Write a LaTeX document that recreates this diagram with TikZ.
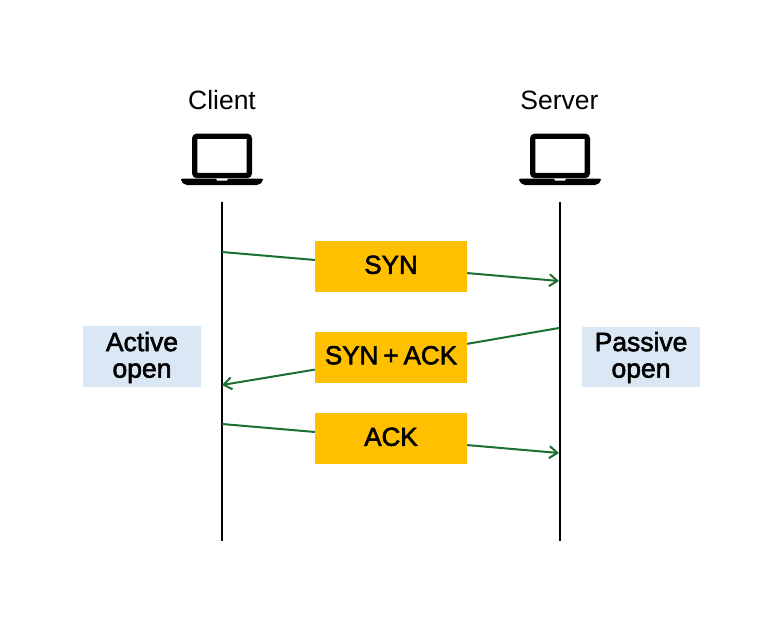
\documentclass[tikz,border=0pt]{standalone}
\usepackage{fontspec}
\setmainfont{Liberation Sans}[BoldFont={Liberation Sans},BoldFeatures={FakeBold=2.2},WordSpace=0.7]
\definecolor{msg}{HTML}{1A7030}
\definecolor{boxy}{HTML}{FFC000}
\definecolor{noteb}{HTML}{DAE8F5}
\tikzset{
  msgbox/.style={fill=boxy,minimum width=152pt,minimum height=51pt,inner sep=0pt,text height=18pt,text depth=3.5pt,font=\fontsize{26}{26}\selectfont\bfseries},
  notebox/.style={fill=noteb,minimum width=118pt,inner sep=0pt,align=center,text depth=5.6pt,font=\fontsize{26.5}{26.5}\selectfont\bfseries},
  title/.style={inner sep=0pt,font=\fontsize{26.5}{26.5}\selectfont},
  lifeline/.style={line width=2pt,black},
  msgline/.style={line width=2pt,msg},
  msgarrow/.style={msgline,-{Straight Barb[length=8pt,width=12pt,line width=2pt]}},
}
\usetikzlibrary{arrows.meta}
\begin{document}
\begin{tikzpicture}[x=1pt,y=-1pt]
\useasboundingbox (0,0) rectangle (773,632);
\fill[white] (0,0) rectangle (773,632);
\node[title] (client) at (222,100) {Client};
\node[title] (server) at (559.5,100) {Server};
% laptops
\foreach \x in {0,338}{
  \begin{scope}[xshift=\x pt]
    \draw[line width=5.4pt,rounded corners=2.5pt] (194.7,136.2) rectangle (249.3,175.5);
    \fill[rounded corners=2pt] (181,178.5) -- (263,178.5) -- (263,181) -- (259,185) -- (185,185) -- (181,181) -- cycle;
    \fill[white] (216,178.5) -- (228,178.5) -- (227,180.5) -- (217,180.5) -- cycle;
  \end{scope}
}
\coordinate (ctop) at (222,202);
\coordinate (cbot) at (222,541);
\coordinate (stop) at (560,202);
\coordinate (sbot) at (560,541);
\draw[lifeline] (ctop) -- (cbot);
\draw[lifeline] (stop) -- (sbot);
\node[msgbox] (syn) at (391,266.5) {SYN};
\node[msgbox] (synack) at (391,357) {SYN + ACK};
\node[msgbox] (ack) at (391,438.5) {ACK};
\node[notebox,minimum height=61pt,text height=47.8pt] (active) at (142,356.5) {Active\\open};
\node[notebox,minimum height=60pt,text height=46.8pt] (passive) at (641,357) {Passive\\open};
\coordinate (c1) at (222,252);
\coordinate (s1) at (559,281);
\coordinate (s2) at (559,328);
\coordinate (c2) at (222,385);
\coordinate (c3) at (222,424);
\coordinate (s3) at (559,453);
\draw[msgline] (c1) -- (syn);
\draw[msgarrow] (syn) -- (s1);
\draw[msgline] (s2) -- (synack);
\draw[msgarrow] (synack) -- (c2);
\draw[msgline] (c3) -- (ack);
\draw[msgarrow] (ack) -- (s3);
\end{tikzpicture}
\end{document}
